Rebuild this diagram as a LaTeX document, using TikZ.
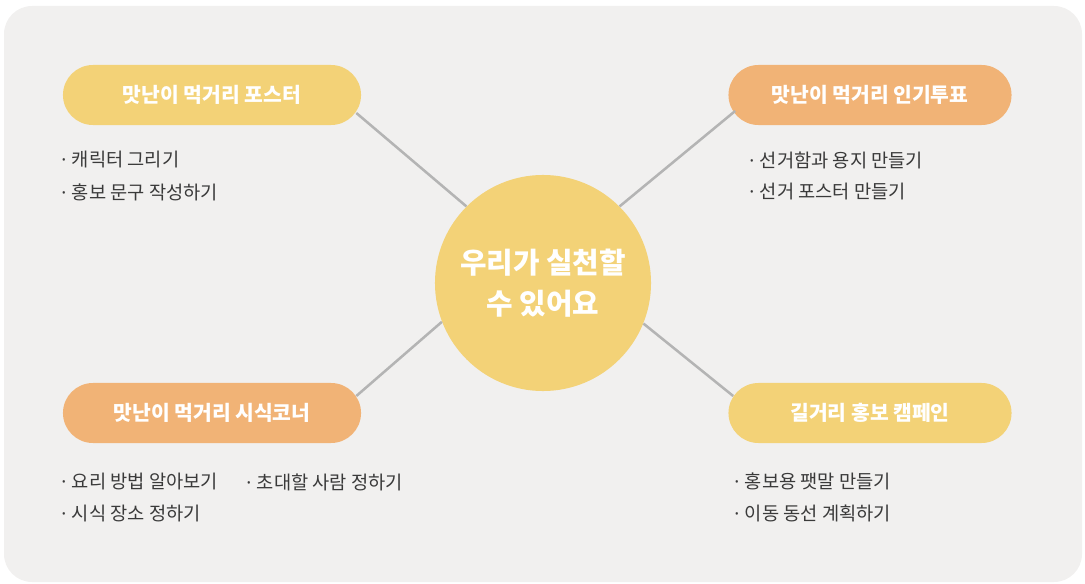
\documentclass[tikz,border=0pt]{standalone}
\usepackage{fontspec}
\setmainfont{Noto Sans CJK KR}
\newfontfamily\dotfont{Noto Sans}
\usetikzlibrary{calc}

\definecolor{paper}{HTML}{F1F0EF}
\definecolor{mustard}{HTML}{F3D277}
\definecolor{apricot}{HTML}{F1B376}
\definecolor{wire}{HTML}{B4B4B4}
\definecolor{ink}{HTML}{3A3A3A}
\newcommand{\bul}{{\dotfont ·}\hspace{0.3em}}

\begin{document}
\begin{tikzpicture}
  [x=0.025cm,y=-0.025cm,
   topic/.style={rectangle,rounded corners=0.75cm,minimum height=1.5cm,text=white,
     font=\bfseries\fontsize{14.5}{17}\selectfont},
   item/.style={anchor=west,inner sep=0pt,text=ink,font=\fontsize{13.3}{15}\selectfont}]
  \useasboundingbox (0,0) rectangle (1085,584);
  \fill[paper,rounded corners=0.7cm] (4,6) rectangle (1082,582);

  \node[circle,fill=mustard,minimum size=5.4cm,text=white,align=center,
    font=\bfseries\fontsize{20.5}{29}\selectfont] (hub) at (543,283) {우리가 실천할\\수 있어요};

  \node[topic,fill=mustard,minimum width=7.45cm] (poster) at (212,95) {맛난이 먹거리 포스터};
  \node[topic,fill=apricot,minimum width=7.075cm] (vote) at (870,95) {맛난이 먹거리 인기투표};
  \node[topic,fill=apricot,minimum width=7.45cm] (taste) at (212,413) {맛난이 먹거리 시식코너};
  \node[topic,fill=mustard,minimum width=7.075cm] (street) at (870,413) {길거리 홍보 캠페인};

  \node[item] (p1) at (61,160) {\bul 캐릭터 그리기};
  \node[item] (p2) at (61,192) {\bul 홍보 문구 작성하기};
  \node[item] (v1) at (749,160) {\bul 선거함과 용지 만들기};
  \node[item] (v2) at (749,192) {\bul 선거 포스터 만들기};
  \node[item] (t1) at (61,482) {\bul 요리 방법 알아보기};
  \node[item] (t2) at (246,482) {\bul 초대할 사람 정하기};
  \node[item] (t3) at (61,514) {\bul 시식 장소 정하기};
  \node[item] (s1) at (734,481) {\bul 홍보용 팻말 만들기};
  \node[item] (s2) at (734,513) {\bul 이동 동선 계획하기};

\path[draw,wire,line width=1.8pt]
    (hub.135) -- ($(poster.east)+(-5,18)$)
    (hub.45)  -- ($(vote.west)+(7,16)$)
    (hub.201) -- ($(taste.east)+(-5,-17)$)
    (hub.-22) -- ($(street.west)+(5,-17)$)
    ;

\end{tikzpicture}
\end{document}
